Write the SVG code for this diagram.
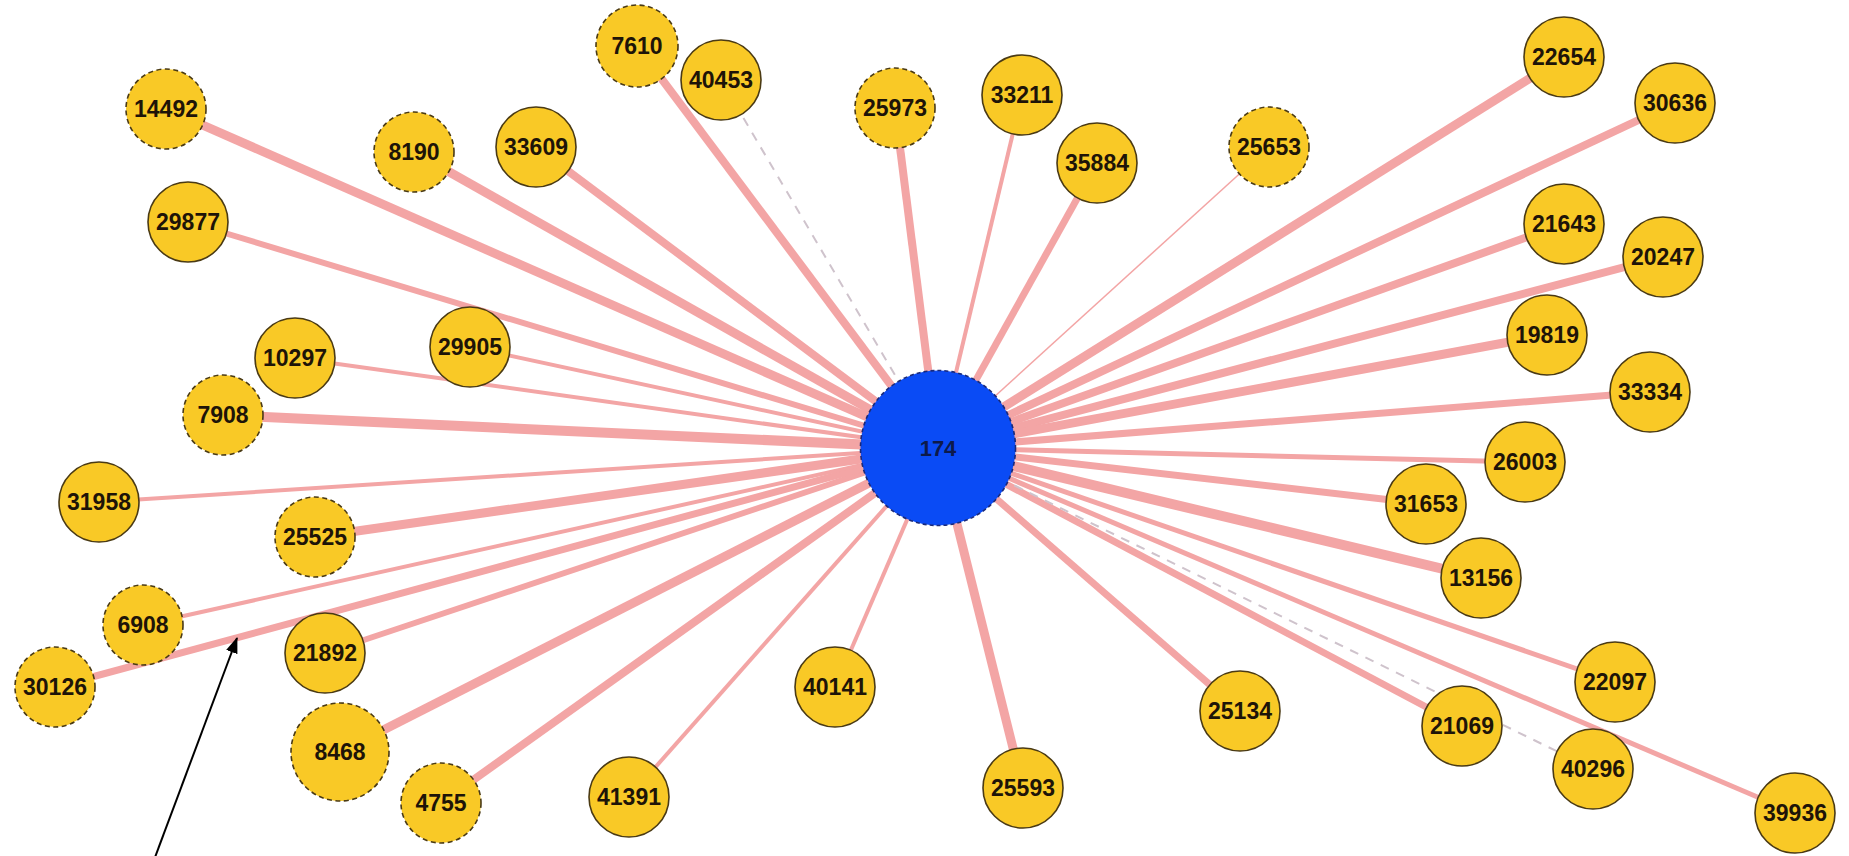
<svg xmlns="http://www.w3.org/2000/svg" width="1849" height="856" viewBox="0 0 1849 856">
<defs>
<style>
.e{stroke:#F3A5A5;stroke-linecap:butt;fill:none}
.ed{stroke:#CFC3CC;stroke-width:2;stroke-dasharray:9 8;fill:none}
.n circle{fill:#F9C926;stroke:#4A3A14;stroke-width:1.6}
.n.d circle{stroke-dasharray:5 3.5}
.n text{font-family:"Liberation Sans",Arial,sans-serif;font-weight:bold;font-size:23px;fill:#1E1408;text-anchor:middle;dominant-baseline:central}
</style>
<marker id="ah" viewBox="0 0 16 12" refX="15" refY="6" markerWidth="16" markerHeight="12" markerUnits="userSpaceOnUse" orient="auto">
<path d="M0,0 L16,6 L0,12 z" fill="#000"/>
</marker>
</defs>
<rect width="1849" height="856" fill="#fff"/>
<g id="edges">
<line class="e" x1="938" y1="448" x2="166" y2="109" stroke-width="9"/>
<line class="e" x1="938" y1="448" x2="414" y2="152" stroke-width="9"/>
<line class="e" x1="938" y1="448" x2="536" y2="147" stroke-width="8"/>
<line class="e" x1="938" y1="448" x2="637" y2="46" stroke-width="8"/>
<line class="ed" x1="938" y1="448" x2="721" y2="80"/>
<line class="e" x1="938" y1="448" x2="895" y2="108" stroke-width="8"/>
<line class="e" x1="938" y1="448" x2="1022" y2="95" stroke-width="4"/>
<line class="e" x1="938" y1="448" x2="1097" y2="163" stroke-width="7"/>
<line class="e" x1="938" y1="448" x2="1269" y2="147" stroke-width="1.5"/>
<line class="e" x1="938" y1="448" x2="1564" y2="57" stroke-width="9"/>
<line class="e" x1="938" y1="448" x2="1675" y2="103" stroke-width="8"/>
<line class="e" x1="938" y1="448" x2="1564" y2="224" stroke-width="8"/>
<line class="e" x1="938" y1="448" x2="1663" y2="257" stroke-width="8"/>
<line class="e" x1="938" y1="448" x2="1547" y2="335" stroke-width="9"/>
<line class="e" x1="938" y1="448" x2="1650" y2="392" stroke-width="7"/>
<line class="e" x1="938" y1="448" x2="1525" y2="462" stroke-width="5"/>
<line class="e" x1="938" y1="448" x2="1426" y2="504" stroke-width="7"/>
<line class="e" x1="938" y1="448" x2="1481" y2="578" stroke-width="10"/>
<line class="e" x1="938" y1="448" x2="1615" y2="682" stroke-width="5"/>
<line class="e" x1="938" y1="448" x2="1462" y2="726" stroke-width="7"/>
<line class="ed" x1="938" y1="448" x2="1593" y2="769"/>
<line class="e" x1="938" y1="448" x2="1795" y2="813" stroke-width="5"/>
<line class="e" x1="938" y1="448" x2="1240" y2="711" stroke-width="7"/>
<line class="e" x1="938" y1="448" x2="1023" y2="788" stroke-width="9"/>
<line class="e" x1="938" y1="448" x2="835" y2="687" stroke-width="4"/>
<line class="e" x1="938" y1="448" x2="629" y2="797" stroke-width="4"/>
<line class="e" x1="938" y1="448" x2="441" y2="803" stroke-width="8"/>
<line class="e" x1="938" y1="448" x2="340" y2="752" stroke-width="9"/>
<line class="e" x1="938" y1="448" x2="325" y2="653" stroke-width="6"/>
<line class="e" x1="938" y1="448" x2="55" y2="687" stroke-width="7"/>
<line class="e" x1="938" y1="448" x2="143" y2="625" stroke-width="4"/>
<line class="e" x1="938" y1="448" x2="315" y2="537" stroke-width="9"/>
<line class="e" x1="938" y1="448" x2="99" y2="502" stroke-width="4"/>
<line class="e" x1="938" y1="448" x2="223" y2="415" stroke-width="10"/>
<line class="e" x1="938" y1="448" x2="295" y2="358" stroke-width="4"/>
<line class="e" x1="938" y1="448" x2="470" y2="347" stroke-width="4"/>
<line class="e" x1="938" y1="448" x2="188" y2="222" stroke-width="6"/>
</g>
<g id="n7610" class="n d"><circle cx="637" cy="46" r="41"/><text x="637" y="46">7610</text></g>
<g id="n40453" class="n"><circle cx="721" cy="80" r="40"/><text x="721" y="80">40453</text></g>
<g id="n14492" class="n d"><circle cx="166" cy="109" r="40"/><text x="166" y="109">14492</text></g>
<g id="n25973" class="n d"><circle cx="895" cy="108" r="40"/><text x="895" y="108">25973</text></g>
<g id="n33211" class="n"><circle cx="1022" cy="95" r="40"/><text x="1022" y="95">33211</text></g>
<g id="n35884" class="n"><circle cx="1097" cy="163" r="40"/><text x="1097" y="163">35884</text></g>
<g id="n25653" class="n d"><circle cx="1269" cy="147" r="40"/><text x="1269" y="147">25653</text></g>
<g id="n22654" class="n"><circle cx="1564" cy="57" r="40"/><text x="1564" y="57">22654</text></g>
<g id="n30636" class="n"><circle cx="1675" cy="103" r="40"/><text x="1675" y="103">30636</text></g>
<g id="n8190" class="n d"><circle cx="414" cy="152" r="40"/><text x="414" y="152">8190</text></g>
<g id="n33609" class="n"><circle cx="536" cy="147" r="40"/><text x="536" y="147">33609</text></g>
<g id="n29877" class="n"><circle cx="188" cy="222" r="40"/><text x="188" y="222">29877</text></g>
<g id="n21643" class="n"><circle cx="1564" cy="224" r="40"/><text x="1564" y="224">21643</text></g>
<g id="n20247" class="n"><circle cx="1663" cy="257" r="40"/><text x="1663" y="257">20247</text></g>
<g id="n19819" class="n"><circle cx="1547" cy="335" r="40"/><text x="1547" y="335">19819</text></g>
<g id="n33334" class="n"><circle cx="1650" cy="392" r="40"/><text x="1650" y="392">33334</text></g>
<g id="n10297" class="n"><circle cx="295" cy="358" r="40"/><text x="295" y="358">10297</text></g>
<g id="n29905" class="n"><circle cx="470" cy="347" r="40"/><text x="470" y="347">29905</text></g>
<g id="n7908" class="n d"><circle cx="223" cy="415" r="40"/><text x="223" y="415">7908</text></g>
<g id="n26003" class="n"><circle cx="1525" cy="462" r="40"/><text x="1525" y="462">26003</text></g>
<g id="n31653" class="n"><circle cx="1426" cy="504" r="40"/><text x="1426" y="504">31653</text></g>
<g id="n31958" class="n"><circle cx="99" cy="502" r="40"/><text x="99" y="502">31958</text></g>
<g id="n25525" class="n d"><circle cx="315" cy="537" r="40"/><text x="315" y="537">25525</text></g>
<g id="n13156" class="n"><circle cx="1481" cy="578" r="40"/><text x="1481" y="578">13156</text></g>
<g id="n6908" class="n d"><circle cx="143" cy="625" r="40"/><text x="143" y="625">6908</text></g>
<g id="n21892" class="n"><circle cx="325" cy="653" r="40"/><text x="325" y="653">21892</text></g>
<g id="n30126" class="n d"><circle cx="55" cy="687" r="40"/><text x="55" y="687">30126</text></g>
<g id="n22097" class="n"><circle cx="1615" cy="682" r="40"/><text x="1615" y="682">22097</text></g>
<g id="n40141" class="n"><circle cx="835" cy="687" r="40"/><text x="835" y="687">40141</text></g>
<g id="n25134" class="n"><circle cx="1240" cy="711" r="40"/><text x="1240" y="711">25134</text></g>
<g id="n21069" class="n"><circle cx="1462" cy="726" r="40"/><text x="1462" y="726">21069</text></g>
<g id="n8468" class="n d"><circle cx="340" cy="752" r="49"/><text x="340" y="752">8468</text></g>
<g id="n4755" class="n d"><circle cx="441" cy="803" r="40"/><text x="441" y="803">4755</text></g>
<g id="n41391" class="n"><circle cx="629" cy="797" r="40"/><text x="629" y="797">41391</text></g>
<g id="n25593" class="n"><circle cx="1023" cy="788" r="40"/><text x="1023" y="788">25593</text></g>
<g id="n40296" class="n"><circle cx="1593" cy="769" r="40"/><text x="1593" y="769">40296</text></g>
<g id="n39936" class="n"><circle cx="1795" cy="813" r="40"/><text x="1795" y="813">39936</text></g>
<g id="n174"><circle cx="938" cy="448" r="77.5" fill="#0A4BF5" stroke="#1A2A7A" stroke-width="1.6" stroke-dasharray="4 3"/><text x="938" y="448" font-family="Liberation Sans,Arial,sans-serif" font-weight="bold" font-size="22" fill="#0D1A4A" text-anchor="middle" dominant-baseline="central">174</text></g>
<g id="annotation">
<line x1="154" y1="860" x2="237" y2="638" stroke="#000" stroke-width="2" marker-end="url(#ah)"/>
</g>
</svg>
